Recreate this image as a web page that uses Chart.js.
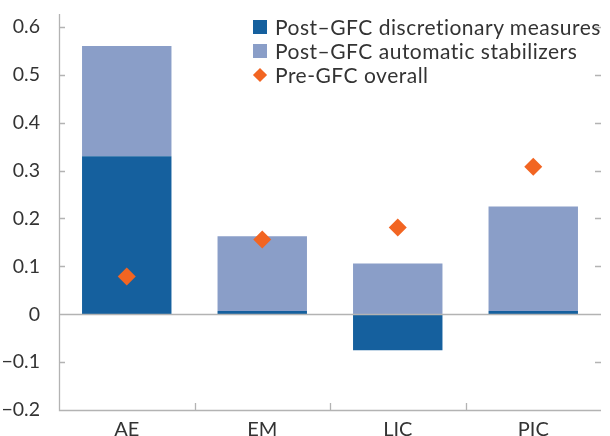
<!DOCTYPE html>
<html>
<head>
<meta charset="utf-8">
<script src="https://cdn.jsdelivr.net/npm/chart.js@4/dist/chart.umd.min.js"></script>
<style>
  html, body { margin: 0; padding: 0; background: #fff; }
  #wrap { position: relative; width: 610px; height: 436px; overflow: hidden; }
  #legend {
    position: absolute; left: 253px; top: 15px;
    font-family: Lato, "Open Sans", sans-serif; font-size: 21px; color: #333;
    line-height: 24px; letter-spacing: 0.5px;
  }
  .lg-item { display: flex; align-items: center; white-space: nowrap; height: 24px; }
  .lg-box { width: 14px; height: 14px; margin-right: 8px; flex: none; }
  .lg-dia { width: 10px; height: 10px; margin: 0 10px 0 2px; transform: rotate(45deg); flex: none; }
</style>
</head>
<body>
<div id="wrap">
  <canvas id="chart" width="610" height="436"></canvas>
  <div id="legend"></div>
</div>
<script>
// ─── Data ─────────────────────────────────────────────────────────────────────
const categories = ['AE', 'EM', 'LIC', 'PIC'];
const discretionary = [0.330, 0.007, -0.075, 0.007];
const automatic = [0.230, 0.156, 0.106, 0.218];
const preGfc = [0.079, 0.156, 0.181, 0.308];
const yTicks = [-0.2, -0.1, 0, 0.1, 0.2, 0.3, 0.4, 0.5, 0.6];

const DARK = '#15609e';
const LIGHT = '#8a9ec8';
const ORANGE = '#f26522';
const AXIS = '#b3b3b3';
const TEXT = '#333';

// ─── Inward tick marks (left, right, bottom) ─────────────────────────────────
const tickMarks = {
  id: 'tickMarks',
  afterDraw(chart) {
    const { ctx, chartArea: a, scales: { x, y } } = chart;
    ctx.save();
    ctx.strokeStyle = AXIS;
    ctx.lineWidth = 1.3;
    ctx.beginPath();
    // left axis line and bottom axis line
    ctx.moveTo(a.left + 0.5, a.top);
    ctx.lineTo(a.left + 0.5, a.bottom + 0.5);
    ctx.lineTo(a.right, a.bottom + 0.5);
    yTicks.forEach(v => {
      const py = Math.round(y.getPixelForValue(v)) + 0.5;
      ctx.moveTo(a.left, py); ctx.lineTo(a.left + 6, py);
      ctx.moveTo(a.right, py); ctx.lineTo(a.right - 6, py);
    });
    // category boundaries on the x axis
    for (let i = 1; i < categories.length; i++) {
      const px = Math.round((x.getPixelForValue(i - 1) + x.getPixelForValue(i)) / 2) + 0.5;
      ctx.moveTo(px, a.bottom); ctx.lineTo(px, a.bottom - 7);
    }
    // zero line
    const z = Math.round(y.getPixelForValue(0)) + 0.5;
    ctx.moveTo(a.left, z); ctx.lineTo(a.right, z);
    ctx.stroke();
    ctx.restore();
  }
};

const noPad = s => { s.paddingTop = 0; s.paddingBottom = 0; s.paddingLeft = 0; s.paddingRight = 0; };

// ─── Chart ───────────────────────────────────────────────────────────────────
const chart = new Chart(document.getElementById('chart'), {
  data: {
    labels: categories,
    datasets: [
      {
        type: 'line',
        label: 'Pre-GFC overall',
        data: preGfc,
        showLine: false,
        pointStyle: 'rectRot',
        pointRadius: 9,
        pointBackgroundColor: ORANGE,
        pointBorderWidth: 0,
        borderColor: ORANGE,
        order: 0,
      },
      {
        type: 'bar',
        label: 'Post–GFC discretionary measures',
        data: discretionary,
        backgroundColor: DARK,
        stack: 's',
        categoryPercentage: 0.66,
        barPercentage: 1,
        order: 1,
      },
      {
        type: 'bar',
        label: 'Post–GFC automatic stabilizers',
        data: automatic,
        backgroundColor: LIGHT,
        stack: 's',
        categoryPercentage: 0.66,
        barPercentage: 1,
        order: 2,
      },
    ]
  },
  options: {
    responsive: false,
    animation: false,
    layout: { padding: { top: 14, right: 0, left: 0, bottom: 0 } },
    plugins: { legend: { display: false }, tooltip: { enabled: false } },
    scales: {
      x: {
        stacked: true,
        grid: { display: false, drawTicks: false },
        border: { display: false },
        ticks: { color: TEXT, font: { family: 'Lato', size: 20 }, padding: 8, maxRotation: 0 },
        afterFit: s => { s.height = 26; noPad(s); },
      },
      y: {
        stacked: true,
        min: -0.2,
        max: 0.627,
        grid: { display: false, drawTicks: false },
        border: { display: false },
        afterBuildTicks: s => { s.ticks = yTicks.map(v => ({ value: v })); },
        ticks: {
          color: TEXT,
          font: { family: 'Lato', size: 19.5 },
          padding: 19,
          callback: v => v === 0 ? '0' : (v < 0 ? '\u2212' + Math.abs(v).toFixed(1) : v.toFixed(1)),
        },
        afterFit: s => { s.width = 59; noPad(s); },
      }
    }
  },
  plugins: [tickMarks]
});

// ─── HTML legend ─────────────────────────────────────────────────────────────
const legendOrder = [1, 2, 0];
document.getElementById('legend').innerHTML = legendOrder.map(i => {
  const ds = chart.data.datasets[i];
  const mark = ds.type === 'line'
    ? `<span class="lg-dia" style="background:${ds.pointBackgroundColor}"></span>`
    : `<span class="lg-box" style="background:${ds.backgroundColor}"></span>`;
  return `<div class="lg-item">${mark}${ds.label}</div>`;
}).join('');
</script>
</body>
</html>
